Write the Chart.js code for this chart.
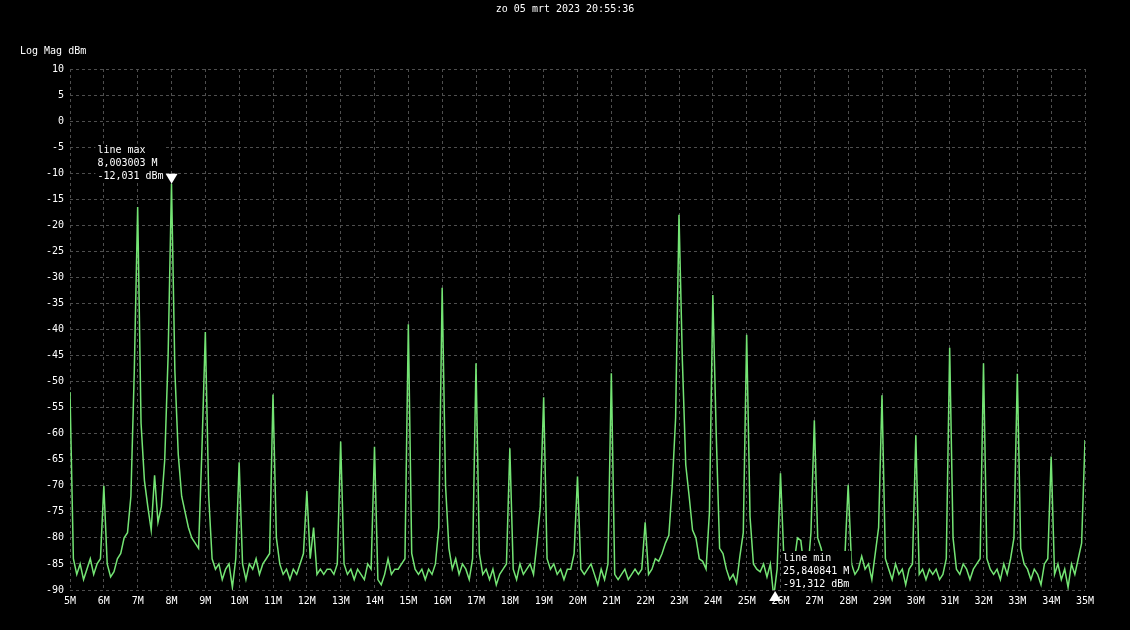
<!DOCTYPE html>
<html>
<head>
<meta charset="utf-8">
<title>Log Mag dBm</title>
<script src="https://cdn.jsdelivr.net/npm/chart.js@4.4.0/dist/chart.umd.min.js"></script>
<style>
  html, body { margin: 0; padding: 0; background: #000; }
  #wrap { width: 1130px; height: 630px; }
</style>
</head>
<body>
<div id="wrap"><canvas id="chart" width="1130" height="630"></canvas></div>
<script>
// sweep: 5 MHz .. 35 MHz, one reading every 0.1 MHz
const startFreq = 5;
const stepFreq = 0.1;

// readings in dBm, one block per 5 MHz
const trace5to10 = [
  -52, -84, -87, -85, -88, -86, -84, -87, -85, -84,
  -70, -85, -87.5, -86.5, -84, -83, -80, -79, -72, -48,
  -16.5, -58, -69, -74, -78.5, -68, -77, -74, -65, -45,
  -12.031, -48, -64, -72, -75, -78, -80, -81, -82, -63,
  -40.5, -72, -84, -86, -85, -88, -86, -85, -89.5, -84
];
const trace10to15 = [
  -65.5, -85, -88, -85, -86, -84, -87, -85, -84, -83,
  -52.5, -80, -85, -87, -86, -88, -86, -87, -85, -83,
  -71, -84, -78, -87, -86, -87, -86, -86, -87, -85,
  -61.5, -85, -87, -86, -88, -86, -87, -88, -85, -86,
  -62.5, -88, -89, -87, -84, -87, -86, -86, -85, -84
];
const trace15to20 = [
  -39, -83, -86, -87, -86, -88, -86, -87, -85, -78,
  -32, -70, -82, -86, -84, -87, -85, -86, -88, -84,
  -46.5, -83, -87, -86, -88, -86, -89, -87, -86, -85,
  -62.8, -86, -88, -85, -87, -86, -85, -87, -81, -74,
  -53, -84, -86, -85, -87, -86, -88, -86, -86, -83
];
const trace20to25 = [
  -68.2, -86, -87, -86, -85, -87, -89, -86, -88, -85,
  -48.4, -87, -88, -87, -86, -88, -87, -86, -87, -86,
  -77, -87, -86, -84, -84.5, -83, -81, -79.5, -70, -57,
  -18, -46, -66, -72, -78.5, -80, -84, -84.5, -86, -75,
  -33.4, -60, -82, -83, -86, -88, -87, -88.7, -83.5, -79
];
const trace25to30 = [
  -41, -76, -85, -86, -86.5, -85, -87.5, -85, -91.3, -86,
  -67.6, -84, -86, -87, -85, -80, -80.5, -86, -87, -79,
  -57.4, -80, -82, -85, -86, -84, -87, -83, -85, -84,
  -69.8, -85, -87, -86, -83.5, -86, -85, -88, -83, -78,
  -52.6, -84, -86, -88, -85, -87, -86, -89, -86, -85
];
const trace30to35 = [
  -60.3, -87, -86, -88, -86, -87, -86, -88, -87, -84,
  -43.5, -80, -86, -87, -85, -86, -88, -86, -85, -84,
  -46.5, -84, -86, -87, -86, -88, -85, -87, -84, -80,
  -48.5, -82, -85, -86, -88, -86, -87, -89, -85, -84,
  -64.4, -87, -85, -88, -86, -89.5, -85, -87, -84, -81,
  -61.2
];

// markers
const markerNames = ['line max', 'line min'];
const markerFreq = [8.003003, 25.840841];
const markerDbm = [-12.031, -91.312];
const markerDir = ['down', 'up'];

const chartTitle = 'zo 05 mrt 2023 20:55:36';
const axisUnit = 'Log Mag dBm';

const FONT_FAMILY = "'DejaVu Sans Mono', 'Liberation Mono', monospace";

const dbm = [].concat(trace5to10, trace10to15, trace15to20, trace20to25, trace25to30, trace30to35);
const points = [];
for (let i = 0; i < dbm.length; i++) {
  points.push({ x: Math.round((startFreq + i * stepFreq) * 10) / 10, y: dbm[i] });
}

function comma(v, d) {
  return v.toFixed(d).replace('.', ',');
}

const overlay = {
  id: 'overlay',
  afterDraw(chart) {
    const ctx = chart.ctx;
    const xs = chart.scales.x;
    const ys = chart.scales.y;
    const area = chart.chartArea;
    ctx.save();
    ctx.font = '10px ' + FONT_FAMILY;
    ctx.fillStyle = '#ffffff';
    ctx.textBaseline = 'middle';
    ctx.textAlign = 'center';
    ctx.fillText(chartTitle, chart.width / 2, 9);
    ctx.textAlign = 'left';
    ctx.fillText(axisUnit, 20, 51);

    for (let i = 0; i < markerNames.length; i++) {
      const px = xs.getPixelForValue(markerFreq[i]);
      let py = ys.getPixelForValue(markerDbm[i]);
      const down = markerDir[i] === 'down';
      if (!down) py = Math.min(py, area.bottom + 1);

      const lines = [
        markerNames[i],
        comma(markerFreq[i], 6) + ' M',
        comma(markerDbm[i], 3) + ' dBm'
      ];
      let w = 0;
      lines.forEach(t => { w = Math.max(w, ctx.measureText(t).width); });
      const left = down ? px - 8 - w : px + 8;
      const firstY = py - 33;

      ctx.fillStyle = '#000';
      ctx.fillRect(left - 2, firstY - 7, w + 4, 39);

      ctx.fillStyle = '#ffffff';
      lines.forEach((t, k) => ctx.fillText(t, left, firstY + k * 13));

      ctx.beginPath();
      if (down) {
        ctx.moveTo(px, py);
        ctx.lineTo(px - 6, py - 10);
        ctx.lineTo(px + 6, py - 10);
      } else {
        ctx.moveTo(px, py);
        ctx.lineTo(px - 6, py + 10);
        ctx.lineTo(px + 6, py + 10);
      }
      ctx.closePath();
      ctx.fill();
    }
    ctx.restore();
  }
};

Chart.defaults.font.family = FONT_FAMILY;
Chart.defaults.font.size = 10;
Chart.defaults.color = '#ffffff';

new Chart(document.getElementById('chart'), {
  type: 'line',
  data: {
    datasets: [{
      label: axisUnit,
      data: points,
      borderColor: '#74e474',
      borderWidth: 1.5,
      pointRadius: 0,
      tension: 0,
      fill: false
    }]
  },
  options: {
    responsive: false,
    animation: false,
    events: [],
    layout: { padding: { top: 69, right: 45, left: 0, bottom: 0 } },
    plugins: {
      legend: { display: false },
      title: { display: false },
      tooltip: { enabled: false }
    },
    scales: {
      x: {
        type: 'linear',
        min: 5,
        max: 35,
        afterFit: s => { s.height = 40; },
        ticks: {
          stepSize: 1,
          autoSkip: false,
          maxRotation: 0,
          padding: 5,
          color: '#ffffff',
          callback: v => v + 'M'
        },
        grid: { color: '#4e4e4e', lineWidth: 1, drawTicks: false },
        border: { display: false, dash: [3, 3] }
      },
      y: {
        type: 'linear',
        min: -90,
        max: 10,
        afterFit: s => { s.width = 70; },
        ticks: {
          stepSize: 5,
          padding: 6,
          color: '#ffffff',
          callback: v => String(v)
        },
        grid: { color: '#4e4e4e', lineWidth: 1, drawTicks: false },
        border: { display: false, dash: [3, 3] }
      }
    }
  },
  plugins: [overlay]
});
</script>
</body>
</html>
